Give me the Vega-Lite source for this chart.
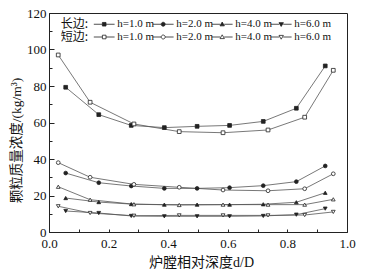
{
  "$schema": "https://vega.github.io/schema/vega-lite/v6.json",
  "width": 298,
  "height": 219,
  "autosize": "none",
  "padding": {"left": 49, "top": 13, "right": 20, "bottom": 45},
  "background": "white",
  "config": {"view": {"stroke": "#222", "strokeWidth": 1}, "font": "Liberation Serif"},
  "data": {"values": [
    {"s": "长边|h=1.0 m", "d": 0.056, "v": 79.3},
    {"s": "长边|h=1.0 m", "d": 0.167, "v": 64.3},
    {"s": "长边|h=1.0 m", "d": 0.276, "v": 58.4},
    {"s": "长边|h=1.0 m", "d": 0.387, "v": 57.2},
    {"s": "长边|h=1.0 m", "d": 0.497, "v": 57.9},
    {"s": "长边|h=1.0 m", "d": 0.606, "v": 58.4},
    {"s": "长边|h=1.0 m", "d": 0.719, "v": 60.6},
    {"s": "长边|h=1.0 m", "d": 0.830, "v": 67.8},
    {"s": "长边|h=1.0 m", "d": 0.927, "v": 91.0},
    {"s": "长边|h=2.0 m", "d": 0.056, "v": 32.3},
    {"s": "长边|h=2.0 m", "d": 0.167, "v": 27.0},
    {"s": "长边|h=2.0 m", "d": 0.276, "v": 25.2},
    {"s": "长边|h=2.0 m", "d": 0.387, "v": 23.9},
    {"s": "长边|h=2.0 m", "d": 0.497, "v": 23.9},
    {"s": "长边|h=2.0 m", "d": 0.606, "v": 24.3},
    {"s": "长边|h=2.0 m", "d": 0.719, "v": 25.4},
    {"s": "长边|h=2.0 m", "d": 0.830, "v": 27.6},
    {"s": "长边|h=2.0 m", "d": 0.927, "v": 36.2},
    {"s": "长边|h=4.0 m", "d": 0.056, "v": 18.6},
    {"s": "长边|h=4.0 m", "d": 0.167, "v": 16.4},
    {"s": "长边|h=4.0 m", "d": 0.276, "v": 15.3},
    {"s": "长边|h=4.0 m", "d": 0.387, "v": 15.0},
    {"s": "长边|h=4.0 m", "d": 0.497, "v": 15.0},
    {"s": "长边|h=4.0 m", "d": 0.606, "v": 15.0},
    {"s": "长边|h=4.0 m", "d": 0.719, "v": 15.2},
    {"s": "长边|h=4.0 m", "d": 0.830, "v": 16.3},
    {"s": "长边|h=4.0 m", "d": 0.927, "v": 21.5},
    {"s": "长边|h=6.0 m", "d": 0.056, "v": 11.5},
    {"s": "长边|h=6.0 m", "d": 0.167, "v": 10.4},
    {"s": "长边|h=6.0 m", "d": 0.276, "v": 8.8},
    {"s": "长边|h=6.0 m", "d": 0.387, "v": 8.6},
    {"s": "长边|h=6.0 m", "d": 0.497, "v": 8.6},
    {"s": "长边|h=6.0 m", "d": 0.606, "v": 8.6},
    {"s": "长边|h=6.0 m", "d": 0.719, "v": 8.8},
    {"s": "长边|h=6.0 m", "d": 0.830, "v": 9.5},
    {"s": "长边|h=6.0 m", "d": 0.927, "v": 12.8},
    {"s": "短边|h=1.0 m", "d": 0.031, "v": 97.0},
    {"s": "短边|h=1.0 m", "d": 0.138, "v": 71.1},
    {"s": "短边|h=1.0 m", "d": 0.285, "v": 59.2},
    {"s": "短边|h=1.0 m", "d": 0.437, "v": 55.0},
    {"s": "短边|h=1.0 m", "d": 0.584, "v": 54.4},
    {"s": "短边|h=1.0 m", "d": 0.735, "v": 55.9},
    {"s": "短边|h=1.0 m", "d": 0.858, "v": 62.9},
    {"s": "短边|h=1.0 m", "d": 0.954, "v": 88.6},
    {"s": "短边|h=2.0 m", "d": 0.031, "v": 38.0},
    {"s": "短边|h=2.0 m", "d": 0.138, "v": 30.0},
    {"s": "短边|h=2.0 m", "d": 0.285, "v": 26.1},
    {"s": "短边|h=2.0 m", "d": 0.437, "v": 24.5},
    {"s": "短边|h=2.0 m", "d": 0.584, "v": 23.0},
    {"s": "短边|h=2.0 m", "d": 0.735, "v": 22.6},
    {"s": "短边|h=2.0 m", "d": 0.858, "v": 23.7},
    {"s": "短边|h=2.0 m", "d": 0.954, "v": 31.9},
    {"s": "短边|h=4.0 m", "d": 0.031, "v": 24.8},
    {"s": "短边|h=4.0 m", "d": 0.138, "v": 17.7},
    {"s": "短边|h=4.0 m", "d": 0.285, "v": 15.2},
    {"s": "短边|h=4.0 m", "d": 0.437, "v": 14.8},
    {"s": "短边|h=4.0 m", "d": 0.584, "v": 15.0},
    {"s": "短边|h=4.0 m", "d": 0.735, "v": 15.0},
    {"s": "短边|h=4.0 m", "d": 0.858, "v": 15.0},
    {"s": "短边|h=4.0 m", "d": 0.954, "v": 17.9},
    {"s": "短边|h=6.0 m", "d": 0.031, "v": 14.1},
    {"s": "短边|h=6.0 m", "d": 0.138, "v": 10.4},
    {"s": "短边|h=6.0 m", "d": 0.285, "v": 8.9},
    {"s": "短边|h=6.0 m", "d": 0.437, "v": 9.1},
    {"s": "短边|h=6.0 m", "d": 0.584, "v": 9.1},
    {"s": "短边|h=6.0 m", "d": 0.735, "v": 9.1},
    {"s": "短边|h=6.0 m", "d": 0.858, "v": 9.3},
    {"s": "短边|h=6.0 m", "d": 0.954, "v": 11.0}
  ]},
  "encoding": {
    "x": {
      "field": "d", "type": "quantitative",
      "scale": {"domain": [0, 1], "nice": false, "zero": false},
      "axis": {
        "values": [0, 0.1, 0.2, 0.3, 0.4, 0.5, 0.6, 0.7, 0.8, 0.9, 1.0],
        "labelExpr": "round(datum.value*10) % 2 === 0 ? format(datum.value, '.1f') : ''",
        "grid": false, "tickSize": -3, "labelPadding": 8, "labelFlush": false,
        "labelFont": "Liberation Serif", "labelFontSize": 13, "labelColor": "#111",
        "domainColor": "#222", "tickColor": "#222",
        "title": "炉膛相对深度d/D",
        "titleFont": "Liberation Serif, Noto Sans CJK SC", "titleFontSize": 14, "titleFontWeight": "normal", "titleColor": "#111",
        "titleX": 152, "titleY": 23, "titleBaseline": "top"
      }
    },
    "y": {
      "field": "v", "type": "quantitative",
      "scale": {"domain": [0, 120], "nice": false},
      "axis": {
        "values": [0, 10, 20, 30, 40, 50, 60, 70, 80, 90, 100, 110, 120],
        "labelExpr": "round(datum.value) % 20 === 0 ? datum.label : ''",
        "grid": false,
        "tickSize": {"condition": {"test": "round(datum.value) % 20 === 0", "value": -5}, "value": -3},
        "labelPadding": 8,
        "labelFont": "Liberation Serif", "labelFontSize": 13, "labelColor": "#111",
        "domainColor": "#222", "tickColor": "#222",
        "title": "颗粒质量浓度/(kg/m³)",
        "titleFont": "Liberation Serif, Noto Sans CJK SC", "titleFontSize": 13.5, "titleFontWeight": "normal", "titleColor": "#111",
        "titleX": -26, "titleY": 127
      }
    }
  },
  "layer": [
    {
      "mark": {"type": "line", "color": "#555", "strokeWidth": 0.8},
      "encoding": {"detail": {"field": "s"}}
    },
    {
      "mark": {"type": "point", "stroke": "#222", "strokeWidth": 0.8, "size": 14, "opacity": 1},
      "encoding": {
        "shape": {"field": "s", "legend": null, "scale": {
          "domain": ["长边|h=1.0 m", "长边|h=2.0 m", "长边|h=4.0 m", "长边|h=6.0 m", "短边|h=1.0 m", "短边|h=2.0 m", "短边|h=4.0 m", "短边|h=6.0 m"],
          "range": ["square", "circle", "triangle-up", "triangle-down", "square", "circle", "triangle-up", "triangle-down"]}},
        "fill": {"field": "s", "legend": null, "scale": {
          "domain": ["长边|h=1.0 m", "长边|h=2.0 m", "长边|h=4.0 m", "长边|h=6.0 m", "短边|h=1.0 m", "短边|h=2.0 m", "短边|h=4.0 m", "短边|h=6.0 m"],
          "range": ["#222", "#222", "#222", "#222", "white", "white", "white", "white"]}}
      }
    },
    {
      "mark": {"type": "point", "stroke": "#222", "strokeWidth": 0.8, "size": 64, "opacity": 0},
      "encoding": {
        "shape": {"field": "s", "scale": {
          "domain": ["长边|h=1.0 m", "长边|h=2.0 m", "长边|h=4.0 m", "长边|h=6.0 m", "短边|h=1.0 m", "短边|h=2.0 m", "短边|h=4.0 m", "短边|h=6.0 m"],
          "range": [
            "M-2.6,0H-0.45M0.45,0H2.6M-0.45,-0.45H0.45V0.45H-0.45Z",
            "M-2.6,0H-0.5M0.5,0H2.6M-0.5,0A0.5,0.5 0 1,0 0.5,0A0.5,0.5 0 1,0 -0.5,0Z",
            "M-2.6,0H-0.5M0.5,0H2.6M0,-0.55L0.55,0.4L-0.55,0.4Z",
            "M-2.6,0H-0.5M0.5,0H2.6M0,0.55L0.55,-0.4L-0.55,-0.4Z",
            "M-2.6,0H-0.45M0.45,0H2.6M-0.45,-0.45H0.45V0.45H-0.45Z",
            "M-2.6,0H-0.5M0.5,0H2.6M-0.5,0A0.5,0.5 0 1,0 0.5,0A0.5,0.5 0 1,0 -0.5,0Z",
            "M-2.6,0H-0.5M0.5,0H2.6M0,-0.55L0.55,0.4L-0.55,0.4Z",
            "M-2.6,0H-0.5M0.5,0H2.6M0,0.55L0.55,-0.4L-0.55,-0.4Z"
          ]},
          "legend": {
            "orient": "none", "legendX": 11.7, "legendY": 5.5, "columns": 4, "direction": "horizontal",
            "title": ["长边:", "短边:"], "titleOrient": "left", "titleFont": "Noto Sans CJK SC", "titleFontSize": 12,
            "titleFontWeight": "normal", "titleColor": "#111", "titleLineHeight": 13, "titleBaseline": "top", "titleAnchor": "start", "titlePadding": 10,
            "labelExpr": "split(datum.label, '|')[1]", "labelFont": "Liberation Serif", "labelFontSize": 11, "labelColor": "#111",
            "labelOffset": 7.5, "columnPadding": -4, "rowPadding": 1, "symbolSize": 64, "symbolStrokeWidth": 0.8,
            "symbolOpacity": 1, "symbolStrokeColor": "#222", "padding": 0,
            "encode": {"symbols": {"update": {"opacity": {"value": 1}, "strokeOpacity": {"value": 1}, "stroke": {"value": "#222"}, "strokeWidth": {"value": 0.8}}}}
          }
        },
        "fill": {"field": "s", "scale": {
          "domain": ["长边|h=1.0 m", "长边|h=2.0 m", "长边|h=4.0 m", "长边|h=6.0 m", "短边|h=1.0 m", "短边|h=2.0 m", "短边|h=4.0 m", "短边|h=6.0 m"],
          "range": ["#222", "#222", "#222", "#222", "white", "white", "white", "white"]},
          "legend": {
            "orient": "none", "legendX": 11.7, "legendY": 5.5, "columns": 4, "direction": "horizontal",
            "title": ["长边:", "短边:"], "titleOrient": "left", "titleFont": "Noto Sans CJK SC", "titleFontSize": 12,
            "titleFontWeight": "normal", "titleColor": "#111", "titleLineHeight": 13, "titleBaseline": "top", "titleAnchor": "start", "titlePadding": 10,
            "labelExpr": "split(datum.label, '|')[1]", "labelFont": "Liberation Serif", "labelFontSize": 11, "labelColor": "#111",
            "labelOffset": 7.5, "columnPadding": -4, "rowPadding": 1, "symbolSize": 64, "symbolStrokeWidth": 0.8,
            "symbolOpacity": 1, "symbolStrokeColor": "#222", "padding": 0,
            "encode": {"symbols": {"update": {"opacity": {"value": 1}, "strokeOpacity": {"value": 1}, "stroke": {"value": "#222"}, "strokeWidth": {"value": 0.8}}}}
          }
        }
      }
    }
  ],
  "resolve": {"scale": {"shape": "independent", "fill": "independent"}}
}
